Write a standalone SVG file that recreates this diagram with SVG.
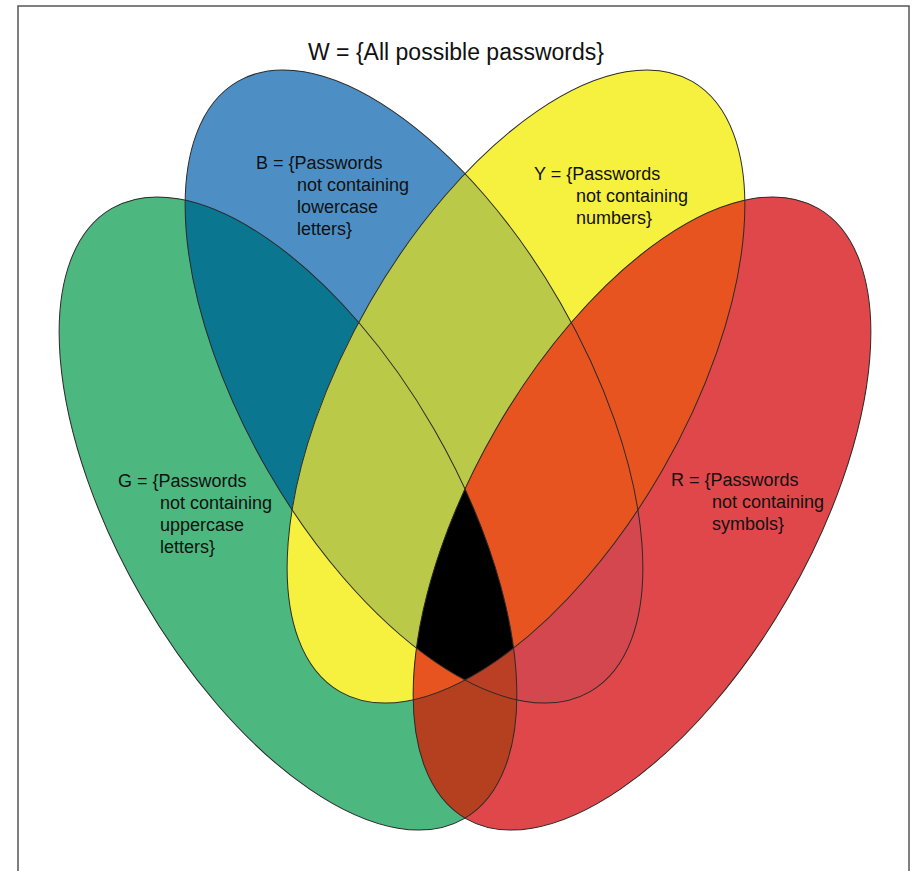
<svg xmlns="http://www.w3.org/2000/svg" width="914" height="871" viewBox="0 0 914 871">
  <style>
    .lbl { font-family: "Liberation Sans", Arial, sans-serif; font-size: 18px; fill: #111; }
    .title { font-family: "Liberation Sans", Arial, sans-serif; font-size: 23px; fill: #111; }
    .outline { fill: none; stroke: #2a2a2a; stroke-width: 1; }
  </style>
  <defs>
    <clipPath id="cG"><ellipse cx="288" cy="513.5" rx="352.3" ry="168.7" transform="rotate(60 288 513.5)"/></clipPath>
    <clipPath id="cB"><ellipse cx="414" cy="386.5" rx="352.3" ry="168.7" transform="rotate(60 414 386.5)"/></clipPath>
    <clipPath id="cY"><ellipse cx="516" cy="386.5" rx="352.3" ry="168.7" transform="rotate(-60 516 386.5)"/></clipPath>
    <clipPath id="cR"><ellipse cx="642" cy="513.5" rx="352.3" ry="168.7" transform="rotate(-60 642 513.5)"/></clipPath>
  </defs>
  <rect x="0" y="0" width="914" height="871" fill="#ffffff"/>
  <rect x="18" y="6" width="891" height="900" fill="none" stroke="#555" stroke-width="1.5"/>

  <!-- region fills -->
  <g id="regions">
    <!-- singles -->
    <rect x="0" y="0" width="914" height="871" fill="#4cb87f" clip-path="url(#cG)"/>
    <rect x="0" y="0" width="914" height="871" fill="#4d8fc5" clip-path="url(#cB)"/>
    <rect x="0" y="0" width="914" height="871" fill="#f6f03e" clip-path="url(#cY)"/>
    <rect x="0" y="0" width="914" height="871" fill="#e0474a" clip-path="url(#cR)"/>
    <!-- pairs -->
    <g clip-path="url(#cG)"><rect x="0" y="0" width="914" height="871" fill="#0b768f" clip-path="url(#cB)"/></g>
    <g clip-path="url(#cG)"><rect x="0" y="0" width="914" height="871" fill="#f6f03e" clip-path="url(#cY)"/></g>
    <g clip-path="url(#cG)"><rect x="0" y="0" width="914" height="871" fill="#b4401f" clip-path="url(#cR)"/></g>
    <g clip-path="url(#cB)"><rect x="0" y="0" width="914" height="871" fill="#bac948" clip-path="url(#cY)"/></g>
    <g clip-path="url(#cB)"><rect x="0" y="0" width="914" height="871" fill="#d4474f" clip-path="url(#cR)"/></g>
    <g clip-path="url(#cY)"><rect x="0" y="0" width="914" height="871" fill="#e8541f" clip-path="url(#cR)"/></g>
    <!-- triples -->
    <g clip-path="url(#cG)"><g clip-path="url(#cB)"><rect x="0" y="0" width="914" height="871" fill="#bac948" clip-path="url(#cY)"/></g></g>
    <g clip-path="url(#cG)"><g clip-path="url(#cB)"><rect x="0" y="0" width="914" height="871" fill="#bb3f24" clip-path="url(#cR)"/></g></g>
    <g clip-path="url(#cG)"><g clip-path="url(#cY)"><rect x="0" y="0" width="914" height="871" fill="#e8541f" clip-path="url(#cR)"/></g></g>
    <g clip-path="url(#cB)"><g clip-path="url(#cY)"><rect x="0" y="0" width="914" height="871" fill="#e8541f" clip-path="url(#cR)"/></g></g>
    <!-- all four -->
    <g clip-path="url(#cG)"><g clip-path="url(#cB)"><g clip-path="url(#cY)"><rect x="0" y="0" width="914" height="871" fill="#000000" clip-path="url(#cR)"/></g></g></g>
  </g>

  <text class="title" x="456" y="60" text-anchor="middle">W = {All possible passwords}</text>

  <g id="set-G">
    <ellipse class="outline" cx="288" cy="513.5" rx="352.3" ry="168.7" transform="rotate(60 288 513.5)"/>
    <text class="lbl" x="118" y="487">G = {Passwords</text>
    <text class="lbl" x="160" y="509">not containing</text>
    <text class="lbl" x="160" y="531">uppercase</text>
    <text class="lbl" x="160" y="553">letters}</text>
  </g>
  <g id="set-B">
    <ellipse class="outline" cx="414" cy="386.5" rx="352.3" ry="168.7" transform="rotate(60 414 386.5)"/>
    <text class="lbl" x="256" y="169">B = {Passwords</text>
    <text class="lbl" x="297" y="191">not containing</text>
    <text class="lbl" x="297" y="213">lowercase</text>
    <text class="lbl" x="297" y="235">letters}</text>
  </g>
  <g id="set-Y">
    <ellipse class="outline" cx="516" cy="386.5" rx="352.3" ry="168.7" transform="rotate(-60 516 386.5)"/>
    <text class="lbl" x="534" y="180">Y = {Passwords</text>
    <text class="lbl" x="576" y="202">not containing</text>
    <text class="lbl" x="576" y="224">numbers}</text>
  </g>
  <g id="set-R">
    <ellipse class="outline" cx="642" cy="513.5" rx="352.3" ry="168.7" transform="rotate(-60 642 513.5)"/>
    <text class="lbl" x="671" y="486">R = {Passwords</text>
    <text class="lbl" x="712" y="508">not containing</text>
    <text class="lbl" x="712" y="530">symbols}</text>
  </g>
  <g id="connectors"/>
</svg>
